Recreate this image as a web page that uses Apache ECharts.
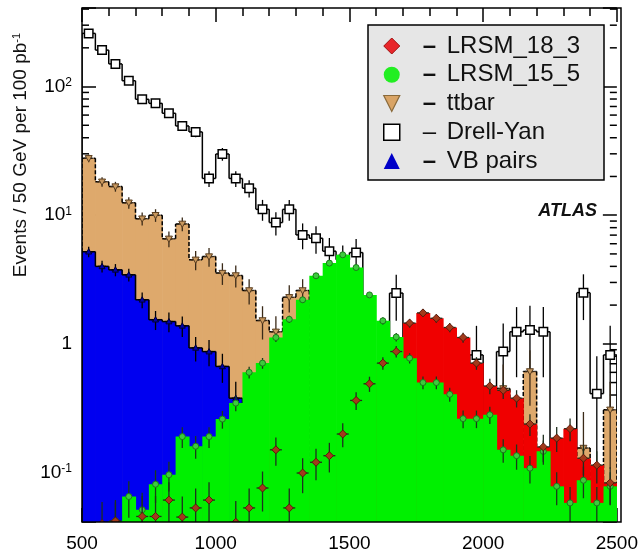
<!DOCTYPE html>
<html>
<head>
<meta charset="utf-8">
<script src="https://cdn.jsdelivr.net/npm/echarts@6/dist/echarts.min.js"></script>
<style>html,body{margin:0;padding:0;background:#fff}#c{width:641px;height:557px}</style>
</head>
<body>
<div id="c"></div>
<script>
// ---- data (bins of 50 GeV, lower edges) ----
const BIN_LOW = [500,550,600,650,700,750,800,850,900,950,1000,1050,1100,1150,1200,1250,1300,1350,1400,1450,1500,1550,1600,1650,1700,1750,1800,1850,1900,1950,2000,2050,2100,2150,2200,2250,2300,2350,2400,2450];
const BIN_WIDTH = 50;

const DRELL_YAN = [259,192,150,111,79.6,74,62,49.4,44.4,19.3,29.9,19.3,16.2,11.1,8.76,11.1,7.03,6.62,5.25,4.5,5.12,0,0,2.48,0,0,0,0,0,0.82,0,0.87,1.24,1.28,1.24,0,0,2.5,0.41,0.82];
const DRELL_YAN_ERR = [9.9,8.5,7.5,6.5,5.5,5.3,4.9,4.3,4.1,2.7,3.4,2.7,2.5,2.05,1.8,2.05,1.6,1.6,1.4,1.3,1.4,0,0,0.97,0,0,0,0,0,0.56,0,0.57,0.69,0.7,0.69,0,0,0.97,0.39,0.56];

const TTBAR = [27.7,18.2,16.7,12.5,9.4,10.0,6.55,8.56,4.5,4.77,3.55,3.4,2.6,1.52,1.24,2.3,2.6,0,0,0,0,0,0,0,0,0,0,0,0,0,0,0.45,0,0.61,0,0,0,0.155,0,0.307];
const TTBAR_ERR = [1.9,1.55,1.47,1.27,1.1,1.13,0.92,1.05,0.77,0.79,0.68,0.66,0.58,0.44,0.4,0.55,0.58,0,0,0,0,0,0,0,0,0,0,0,0,0,0,0.24,0,0.28,0,0,0,0.14,0,0.2];

const VB_PAIRS = [5.2,4.0,3.76,3.44,2.2,1.54,1.49,1.38,0.93,0.87,0.667,0.378,0,0,0,0,0,0,0,0,0,0,0,0,0,0,0,0,0,0,0,0,0,0,0,0,0,0,0,0];
const VB_PAIRS_ERR = [0.48,0.42,0.41,0.39,0.31,0.26,0.26,0.25,0.2,0.2,0.17,0.13,0,0,0,0,0,0,0,0,0,0,0,0,0,0,0,0,0,0,0,0,0,0,0,0,0,0,0,0];

const LRSM_15_5 = [0,0,0.042,0.065,0.0513,0.081,0.096,0.19,0.16,0.19,0.26,0.346,0.6,0.708,1.12,1.55,2.2,3.38,4.24,4.92,3.92,2.4,1.51,1.13,0.774,0.5,0.5,0.405,0.262,0.262,0.281,0.15,0.135,0.108,0.146,0.078,0.058,0.087,0.058,0.078];
const LRSM_15_5_ERR = [0,0,0.0165,0.0206,0.0183,0.023,0.025,0.035,0.032,0.035,0.041,0.047,0.062,0.068,0.085,0.1,0.12,0.148,0.166,0.179,0.16,0.125,0.099,0.086,0.071,0.057,0.057,0.051,0.041,0.041,0.043,0.031,0.03,0.026,0.031,0.0225,0.019,0.024,0.019,0.0225];

const LRSM_18_3 = [0,0.04,0.042,0,0.0455,0.0455,0.061,0.045,0.053,0.061,0,0.041,0.053,0.0757,0.15,0.053,0.099,0.12,0.135,0.199,0.363,0.489,0.708,0.871,1.45,1.74,1.58,1.34,1.12,0.708,0.47,0.435,0.378,0.238,0.158,0.185,0.219,0.129,0.114,0.083];
const LRSM_18_3_ERR = [0,0.019,0.019,0,0.02,0.02,0.023,0.02,0.022,0.023,0,0.019,0.022,0.026,0.037,0.022,0.03,0.033,0.035,0.042,0.057,0.066,0.08,0.089,0.114,0.125,0.119,0.11,0.1,0.08,0.065,0.063,0.058,0.046,0.038,0.041,0.044,0.034,0.032,0.027];

const X_TICKS = [500,1000,1500,2000,2500];
const Y_MIN = 0.0412, Y_MAX = 408;
const Y_MINOR = [0.05,0.06,0.07,0.08,0.09,0.2,0.3,0.4,0.5,0.6,0.7,0.8,0.9,2,3,4,5,6,7,8,9,20,30,40,50,60,70,80,90,200,300,400];
const LEGEND_NAMES = ['LRSM_18_3','LRSM_15_5','ttbar','Drell-Yan','VB pairs'];

const FONT = 'Liberation Sans, Arial, Helvetica, sans-serif';

function buildData(vals, errs) {
  return BIN_LOW.map((x, i) => [x, x + BIN_WIDTH, vals[i], errs[i]]);
}

function fillRenderer(vals, fill, stroke, dash) {
  return function (params, api) {
    const cs = params.coordSys;
    const top = cs.y, bottom = cs.y + cs.height;
    const i = params.dataIndex;
    const x0 = api.value(0), x1 = api.value(1), v = api.value(2);
    const px0 = api.coord([x0, 1])[0], px1 = api.coord([x1, 1])[0];
    const yOf = val => val > 0 ? Math.max(top, Math.min(bottom, api.coord([x0, val])[1])) : bottom;
    const y = yOf(v);
    const prev = i > 0 ? vals[i - 1] : 0;
    const yp = yOf(prev);
    const ch = [];
    if (fill && v > 0 && y < bottom) {
      ch.push({type: 'rect', shape: {x: px0, y: y, width: px1 - px0 + 0.6, height: bottom - y}, style: {fill: fill}});
    }
    if (stroke) {
      const ls = {stroke: stroke, lineWidth: 1.5, lineDash: dash || null, fill: null};
      if (v > 0) ch.push({type: 'line', shape: {x1: px0, y1: y, x2: px1, y2: y}, style: ls});
      if (v > 0 || prev > 0) ch.push({type: 'line', shape: {x1: px0, y1: yp, x2: px0, y2: y}, style: ls});
      if (i === vals.length - 1 && v > 0) ch.push({type: 'line', shape: {x1: px1, y1: y, x2: px1, y2: bottom}, style: ls});
    }
    return {type: 'group', children: ch};
  };
}

function markerShape(kind, cx, cy, c) {
  const s = c.size, st = {fill: c.fill, stroke: c.stroke, lineWidth: c.lw || 1};
  if (kind === 'square') return {type: 'rect', shape: {x: cx - s / 2, y: cy - s / 2, width: s, height: s}, style: st};
  if (kind === 'circle') return {type: 'circle', shape: {cx: cx, cy: cy, r: s / 2}, style: st};
  if (kind === 'diamond') return {type: 'polygon', shape: {points: [[cx, cy - s / 2], [cx + s / 2, cy], [cx, cy + s / 2], [cx - s / 2, cy]]}, style: st};
  if (kind === 'tdown') return {type: 'polygon', shape: {points: [[cx - s / 2, cy - s / 2.6], [cx + s / 2, cy - s / 2.6], [cx, cy + s / 2]]}, style: st};
  return {type: 'polygon', shape: {points: [[cx - s / 2, cy + s / 2.6], [cx + s / 2, cy + s / 2.6], [cx, cy - s / 2]]}, style: st};
}

function marksRenderer(c) {
  return function (params, api) {
    const v = api.value(2), e = api.value(3);
    if (!(v > 0)) return;
    const cs = params.coordSys;
    const bottom = cs.y + cs.height;
    const xm = (api.value(0) + api.value(1)) / 2;
    const p = api.coord([xm, v]);
    const ch = [];
    const ls = {stroke: c.bar, lineWidth: 1.3};
    if (e > 0) {
      const yHi = api.coord([xm, v + e])[1];
      const yLo = v - e > 0 ? Math.min(bottom, api.coord([xm, v - e])[1]) : bottom;
      ch.push({type: 'line', shape: {x1: p[0], y1: yLo, x2: p[0], y2: yHi}, style: ls});
    }
    if (c.arm) ch.push({type: 'line', shape: {x1: p[0] - c.arm, y1: p[1], x2: p[0] + c.arm, y2: p[1]}, style: ls});
    ch.push(markerShape(c.marker, p[0], p[1], c));
    return {type: 'group', children: ch};
  };
}

function fillSeries(name, vals, errs, fill, stroke, dash, z) {
  return {name: name, type: 'custom', coordinateSystem: 'cartesian2d', clip: true, silent: true, z: z,
    data: buildData(vals, errs), renderItem: fillRenderer(vals, fill, stroke, dash),
    itemStyle: {color: fill || '#fff'}};
}
function markSeries(name, vals, errs, cfg, z) {
  return {name: name + ' marks', type: 'custom', coordinateSystem: 'cartesian2d', clip: true, silent: true, z: z,
    data: buildData(vals, errs), renderItem: marksRenderer(cfg)};
}

const TAN = '#DEA96C', BLUE = '#0000F0', GREEN = '#00F000', RED = '#F00000';

function isPow10(v) { const l = Math.log10(v); return Math.abs(l - Math.round(l)) < 1e-6; }

const chart = echarts.init(document.getElementById('c'), null, {renderer: 'canvas'});
chart.setOption({
  animation: false,
  backgroundColor: '#fff',
  grid: {left: 82, right: 20, top: 8, bottom: 35},
  xAxis: [
    {type: 'value', min: X_TICKS[0], max: X_TICKS[X_TICKS.length - 1], interval: 500, position: 'bottom',
      axisLine: {show: false}, splitLine: {show: false},
      axisTick: {inside: true, length: 14, lineStyle: {color: '#000', width: 1.5}},
      minorTick: {show: true, splitNumber: 5, length: 8, lineStyle: {color: '#000', width: 1.5}},
      axisLabel: {fontSize: 19, fontFamily: FONT, color: '#000', margin: 12, formatter: v => String(v)}},
    {type: 'value', min: X_TICKS[0], max: X_TICKS[X_TICKS.length - 1], interval: 500, position: 'top',
      axisLine: {show: false}, splitLine: {show: false},
      axisTick: {inside: true, length: 14, lineStyle: {color: '#000', width: 1.5}},
      minorTick: {show: true, splitNumber: 5, length: 8, lineStyle: {color: '#000', width: 1.5}},
      axisLabel: {show: false}}
  ],
  yAxis: [
    {type: 'log', logBase: 10, min: Y_MIN, max: Y_MAX, position: 'left',
      axisLine: {show: false}, splitLine: {show: false},
      axisTick: {inside: true, length: 14, lineStyle: {color: '#000', width: 1.5}},
      axisLabel: {margin: 10, color: '#000', fontFamily: FONT,
        formatter: function (v) {
          if (!isPow10(v)) return '';
          const e = Math.round(Math.log10(v));
          if (e === 0) return '{b|1}';
          return '{b|10}{s|' + e + '}';
        },
        rich: {b: {fontSize: 19, fontFamily: FONT, color: '#000'}, s: {fontSize: 12, fontFamily: FONT, color: '#000', verticalAlign: 'top'}}}},
    {type: 'log', logBase: 10, min: Y_MIN, max: Y_MAX, position: 'right',
      axisLine: {show: false}, splitLine: {show: false},
      axisTick: {inside: true, length: 14, lineStyle: {color: '#000', width: 1.5}},
      axisLabel: {show: false}}
  ],
  legend: {
    orient: 'vertical', left: 383, top: 34, padding: 0, itemGap: 4.75, itemWidth: 16, itemHeight: 16, itemTextGap: 24,
    selectedMode: false, z: 60,
    data: [
      {name: 'LRSM_18_3', icon: 'diamond', itemStyle: {color: '#E8262A', borderColor: '#A01010', borderWidth: 1}},
      {name: 'LRSM_15_5', icon: 'circle', itemStyle: {color: '#22EE22', borderColor: '#22EE22', borderWidth: 0}},
      {name: 'ttbar', icon: 'path://M0,0L10,0L5,10Z', itemStyle: {color: '#D9A466', borderColor: '#8a6a3a', borderWidth: 1.2}},
      {name: 'Drell-Yan', icon: 'rect', itemStyle: {color: '#fff', borderColor: '#000', borderWidth: 1.5}},
      {name: 'VB pairs', icon: 'triangle', itemStyle: {color: '#0000C8', borderColor: '#0000C8', borderWidth: 0}}
    ],
    formatter: function (name) { return (name === 'Drell-Yan' ? '{dn|–}' : '{d|–}') + '{t|' + name + '}'; },
    textStyle: {fontSize: 24, lineHeight: 23, fontFamily: FONT, color: '#111',
      rich: {d: {fontSize: 24, lineHeight: 23, fontWeight: 'bold', width: 24, padding: [0, 0, 0, 18], fontFamily: FONT, color: '#111'},
             dn: {fontSize: 24, lineHeight: 23, width: 24, padding: [0, 0, 0, 18], fontFamily: FONT, color: '#111'},
             t: {fontSize: 24, lineHeight: 23, fontFamily: FONT, color: '#111'}}}
  },
  graphic: [
    {type: 'rect', shape: {x: 368, y: 25, width: 236, height: 155}, style: {fill: '#E6E6E6', stroke: '#000', lineWidth: 1.5}, z: 55, silent: true},
    {type: 'rect', shape: {x: 82, y: 8, width: 539, height: 514}, style: {fill: null, stroke: '#000', lineWidth: 1.5}, z: 50, silent: true},
    {type: 'text', x: 597, y: 211, z: 55, silent: true,
      style: {text: 'ATLAS', fontSize: 18, fontWeight: 'bold', fontStyle: 'italic', fontFamily: FONT, fill: '#111', align: 'right', verticalAlign: 'middle'}},
    {type: 'text', x: 21, y: 155, rotation: Math.PI / 2, z: 55, silent: true,
      style: {text: '{a|Events / 50 GeV per 100 pb}{s|-1}', align: 'center', verticalAlign: 'middle',
        rich: {a: {fontSize: 19, fontFamily: FONT, fill: '#111', color: '#111'}, s: {fontSize: 11, fontFamily: FONT, fill: '#111', color: '#111', verticalAlign: 'top'}}}}
  ],
  series: [
    {name: 'minor y ticks', type: 'custom', coordinateSystem: 'cartesian2d', silent: true, z: 1,
      data: Y_MINOR.map(v => [X_TICKS[0], v]),
      renderItem: function (params, api) {
        const cs = params.coordSys;
        const y = api.coord([api.value(0), api.value(1)])[1];
        const ls = {stroke: '#000', lineWidth: 1.5};
        return {type: 'group', children: [
          {type: 'line', shape: {x1: cs.x, y1: y, x2: cs.x + 7, y2: y}, style: ls},
          {type: 'line', shape: {x1: cs.x + cs.width - 7, y1: y, x2: cs.x + cs.width, y2: y}, style: ls}
        ]};
      }},
    fillSeries('Drell-Yan', DRELL_YAN, DRELL_YAN_ERR, null, '#000', null, 2),
    markSeries('Drell-Yan', DRELL_YAN, DRELL_YAN_ERR, {marker: 'square', size: 8.5, fill: '#fff', stroke: '#000', lw: 1.5, bar: '#000'}, 3),
    fillSeries('ttbar', TTBAR, TTBAR_ERR, TAN, '#000', [4, 2], 4),
    markSeries('ttbar', TTBAR, TTBAR_ERR, {marker: 'tdown', size: 7, fill: '#C8985E', stroke: '#5a3e20', lw: 1, bar: '#3a2a18', arm: 5}, 5),
    fillSeries('VB pairs', VB_PAIRS, VB_PAIRS_ERR, BLUE, '#000', null, 6),
    markSeries('VB pairs', VB_PAIRS, VB_PAIRS_ERR, {marker: 'tup', size: 6, fill: '#0000B0', stroke: '#000030', lw: 1, bar: '#000', arm: 4}, 7),
    fillSeries('LRSM_18_3', LRSM_18_3, LRSM_18_3_ERR, RED, null, null, 8),
    fillSeries('LRSM_15_5', LRSM_15_5, LRSM_15_5_ERR, GREEN, null, null, 9),
    markSeries('LRSM_15_5', LRSM_15_5, LRSM_15_5_ERR, {marker: 'circle', size: 6, fill: '#3CCB3C', stroke: '#1a7a1a', lw: 1, bar: '#1a3a1a'}, 10),
    markSeries('LRSM_18_3', LRSM_18_3, LRSM_18_3_ERR, {marker: 'diamond', size: 8, fill: '#A23A1C', stroke: '#5a1a0a', lw: 1, bar: '#1f2f1f', arm: 6}, 11)
  ]
});
</script>
</body>
</html>
